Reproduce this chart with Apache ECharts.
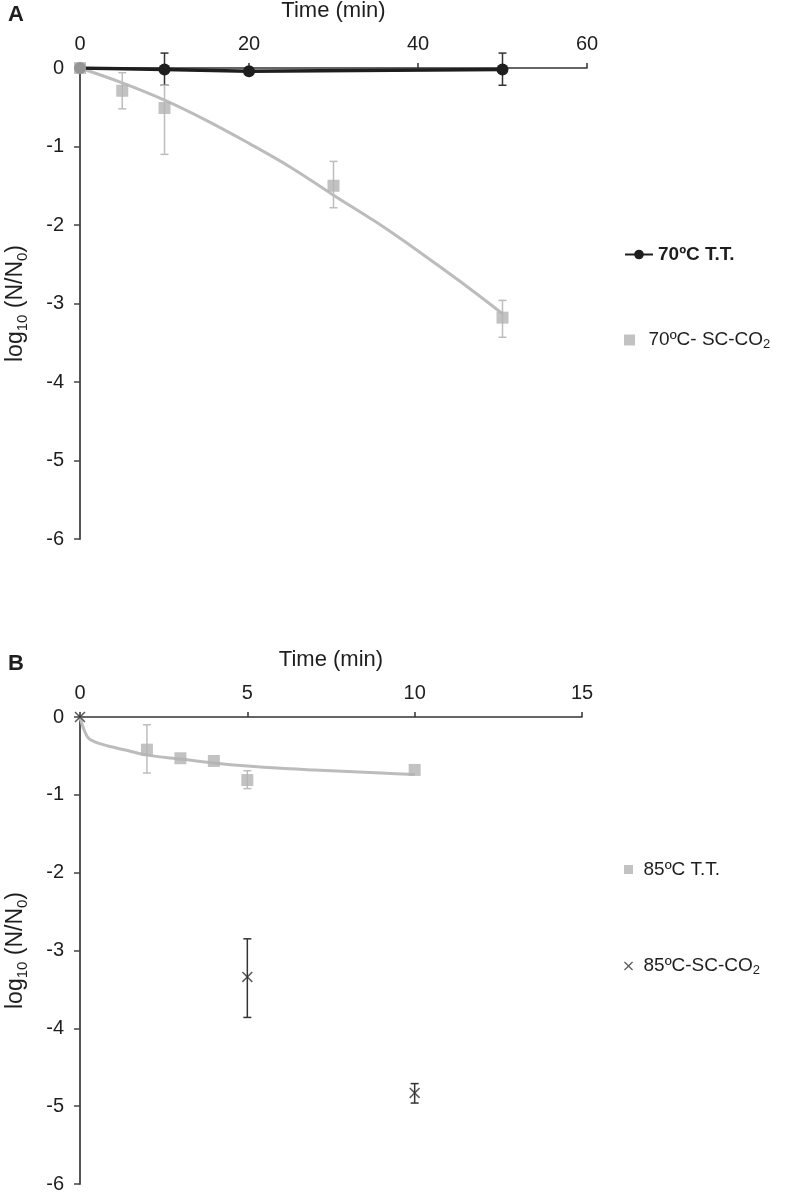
<!DOCTYPE html>
<html>
<head>
<meta charset="utf-8">
<script src="https://cdn.jsdelivr.net/npm/echarts@6/dist/echarts.min.js"></script>
<style>
html,body{margin:0;padding:0;background:#fff;}
#c{width:787px;height:1192px;}
</style>
</head>
<body>
<div id="c"></div>
<script>
// ---------- Panel A data (70 °C) ----------
const ttA_x = [0, 10, 20, 50];
const ttA_y = [0, -0.02, -0.04, -0.02];
const ttA_err = [[10, -0.22, 0.19], [50, -0.22, 0.19]]; // [x, low, high]

const scA_x = [0, 5, 10, 30, 50];
const scA_y = [0, -0.29, -0.51, -1.50, -3.18];
const scA_err = [[5, -0.52, -0.06], [10, -1.10, -0.22], [30, -1.78, -1.19], [50, -3.43, -2.96]];

const fitA_x = [0, 5, 10, 15, 20, 25, 30, 35, 40, 45, 50];
const fitA_y = [0, -0.19, -0.41, -0.67, -0.96, -1.27, -1.62, -1.96, -2.33, -2.72, -3.13];

// ---------- Panel B data (85 °C) ----------
const ttB_x = [2, 3, 4, 5, 10];
const ttB_y = [-0.42, -0.53, -0.565, -0.81, -0.68];
const ttB_err = [[2, -0.72, -0.10], [5, -0.92, -0.69]];

const fitB_x = [0, 0.1, 0.25, 0.5, 0.9, 1.5, 2, 3, 4, 5, 6, 7, 8, 9, 10];
const fitB_y = [0, -0.14, -0.27, -0.33, -0.38, -0.44, -0.49, -0.54, -0.59, -0.63, -0.66, -0.68, -0.70, -0.72, -0.74];

const scB_x = [0, 5, 10];
const scB_y = [0, -3.34, -4.83];
const scB_err = [[5, -3.86, -2.85], [10, -4.96, -4.71]];

// ---------- tick labels ----------
const xTicksA = [0, 20, 40, 60];
const xTicksB = [0, 5, 10, 15];
const yTicks = [-6, -5, -4, -3, -2, -1, 0];

const names = {
  ttA: '70ºC T.T.',
  scA: '70ºC- SC-CO2',
  ttB: '85ºC T.T.',
  scB: '85ºC-SC-CO2'
};

const FONT = '"Liberation Sans", Arial, Helvetica, sans-serif';
const GRAY = '#b3b3b3';
const CURVE = '#bcbcbc';
const BLACK = '#1e1e1e';
const XPATH = 'path://M1,0L5,4L9,0L10,1L6,5L10,9L9,10L5,6L1,10L0,9L4,5L0,1Z';
const SQPATH = 'path://M0,0H10V10H0Z';

const zip = (xs, ys) => xs.map((x, i) => [x, ys[i]]);

function errSeries(data, xi, yi, color, width) {
  return {
    type: 'custom',
    xAxisIndex: xi, yAxisIndex: yi,
    silent: true, clip: false, z: 3,
    data: data,
    renderItem: function (params, api) {
      const x = api.value(0);
      const lo = api.coord([x, api.value(1)]);
      const hi = api.coord([x, api.value(2)]);
      const cw = 4;
      const st = { stroke: color, lineWidth: width };
      return {
        type: 'group',
        children: [
          { type: 'line', shape: { x1: lo[0], y1: lo[1], x2: hi[0], y2: hi[1] }, style: st },
          { type: 'line', shape: { x1: lo[0] - cw, y1: lo[1], x2: lo[0] + cw, y2: lo[1] }, style: st },
          { type: 'line', shape: { x1: hi[0] - cw, y1: hi[1], x2: hi[0] + cw, y2: hi[1] }, style: st }
        ]
      };
    }
  };
}

function xAxisCfg(gi, max, interval) {
  return {
    gridIndex: gi, type: 'value', position: 'top', min: 0, max: max, interval: interval,
    name: 'Time (min)', nameLocation: 'middle', nameGap: 46,
    nameTextStyle: { fontFamily: FONT, fontSize: 22, color: BLACK },
    axisLine: { onZero: false, lineStyle: { color: '#333', width: 1.5 } },
    axisTick: { show: true, inside: false, length: 5, lineStyle: { color: '#333', width: 1.5 } },
    axisLabel: { fontFamily: FONT, fontSize: 20, color: BLACK, margin: 14 },
    splitLine: { show: false }
  };
}

function yAxisCfg(gi) {
  return {
    gridIndex: gi, type: 'value', min: -6, max: 0, interval: 1,
    name: '{n|log}{s|10}{n| (N/N}{s|0}{n|)}', nameLocation: 'middle', nameGap: 50,
    nameTextStyle: {
      fontFamily: FONT, color: BLACK,
      rich: {
        n: { fontFamily: FONT, fontSize: 23, color: BLACK, lineHeight: 28 },
        s: { fontFamily: FONT, fontSize: 15, color: BLACK, lineHeight: 28, verticalAlign: 'bottom', padding: [11, 0, 0, 0] }
      }
    },
    axisLine: { onZero: false, lineStyle: { color: '#555', width: 2 } },
    axisTick: { show: true, inside: false, length: 6, lineStyle: { color: '#444', width: 1.5 } },
    axisLabel: { fontFamily: FONT, fontSize: 20, color: BLACK, margin: 16 },
    splitLine: { show: false }
  };
}

function legendItem(name, left, top, icon, bold, itemWidth, itemHeight) {
  return {
    orient: 'vertical', left: left, top: top, padding: 0,
    itemWidth: itemWidth, itemHeight: itemHeight,
    selectedMode: false,
    data: [icon ? { name: name, icon: icon } : { name: name }],
    formatter: function (n) {
      if (/CO2$/.test(n)) return '{t|' + n.slice(0, -1) + '}{s|2}';
      return '{t|' + n + '}';
    },
    textStyle: {
      fontFamily: FONT, color: BLACK,
      rich: {
        t: { fontFamily: FONT, fontSize: 19, fontWeight: bold ? 'bold' : 'normal', color: BLACK, lineHeight: 22 },
        s: { fontFamily: FONT, fontSize: 13, color: BLACK, lineHeight: 22, verticalAlign: 'bottom', padding: [9, 0, 0, 0] }
      }
    }
  };
}

const option = {
  backgroundColor: '#fff',
  animation: false,
  title: [
    { text: 'A', left: 8, top: 4, padding: 0, textStyle: { fontFamily: FONT, fontSize: 22, fontWeight: 'bold', color: BLACK } },
    { text: 'B', left: 8, top: 653, padding: 0, textStyle: { fontFamily: FONT, fontSize: 22, fontWeight: 'bold', color: BLACK } }
  ],
  grid: [
    { left: 80, top: 68, width: 507, height: 471, containLabel: false, outerBoundsMode: 'none' },
    { left: 80, top: 717, width: 502, height: 467, containLabel: false, outerBoundsMode: 'none' }
  ],
  xAxis: [xAxisCfg(0, xTicksA[xTicksA.length - 1], xTicksA[1] - xTicksA[0]), xAxisCfg(1, xTicksB[xTicksB.length - 1], xTicksB[1] - xTicksB[0])],
  yAxis: [yAxisCfg(0), yAxisCfg(1)],
  legend: [
    legendItem(names.ttA, 624, 245, null, true, 28, 12),
    legendItem(names.scA, 624, 329, SQPATH, false, 28, 11),
    legendItem(names.ttB, 624, 860, SQPATH, false, 20, 9),
    legendItem(names.scB, 624, 955, XPATH, false, 20, 9)
  ],
  series: [
    // ---- Panel A ----
    errSeries(ttA_err, 0, 0, '#333', 1.5),
    {
      name: names.ttA, type: 'line', xAxisIndex: 0, yAxisIndex: 0,
      data: zip(ttA_x, ttA_y), symbol: 'circle', symbolSize: 12, z: 4,
      lineStyle: { color: BLACK, width: 3.5 }, itemStyle: { color: BLACK }
    },
    {
      name: 'fitA', type: 'line', xAxisIndex: 0, yAxisIndex: 0, smooth: 0.4,
      data: zip(fitA_x, fitA_y), symbol: 'none', z: 3, silent: true,
      lineStyle: { color: CURVE, width: 3 }
    },
    errSeries(scA_err, 0, 0, '#bdbdbd', 1.5),
    {
      name: names.scA, type: 'scatter', xAxisIndex: 0, yAxisIndex: 0,
      data: zip(scA_x, scA_y), symbol: 'rect', symbolSize: 12, z: 5,
      itemStyle: { color: GRAY }
    },
    // ---- Panel B ----
    {
      name: 'fitB', type: 'line', xAxisIndex: 1, yAxisIndex: 1, smooth: 0.3,
      data: zip(fitB_x, fitB_y), symbol: 'none', z: 3, silent: true,
      lineStyle: { color: CURVE, width: 3 }
    },
    errSeries(ttB_err, 1, 1, '#bdbdbd', 1.5),
    {
      name: names.ttB, type: 'scatter', xAxisIndex: 1, yAxisIndex: 1,
      data: zip(ttB_x, ttB_y), symbol: 'rect', symbolSize: 12, z: 5,
      itemStyle: { color: GRAY }
    },
    errSeries(scB_err, 1, 1, '#333', 1.5),
    {
      name: names.scB, type: 'scatter', xAxisIndex: 1, yAxisIndex: 1,
      data: zip(scB_x, scB_y), symbol: XPATH, symbolSize: 11, z: 6,
      itemStyle: { color: '#333' }
    }
  ]
};

const chart = echarts.init(document.getElementById('c'), null, { renderer: 'canvas' });
chart.setOption(option);
</script>
</body>
</html>
